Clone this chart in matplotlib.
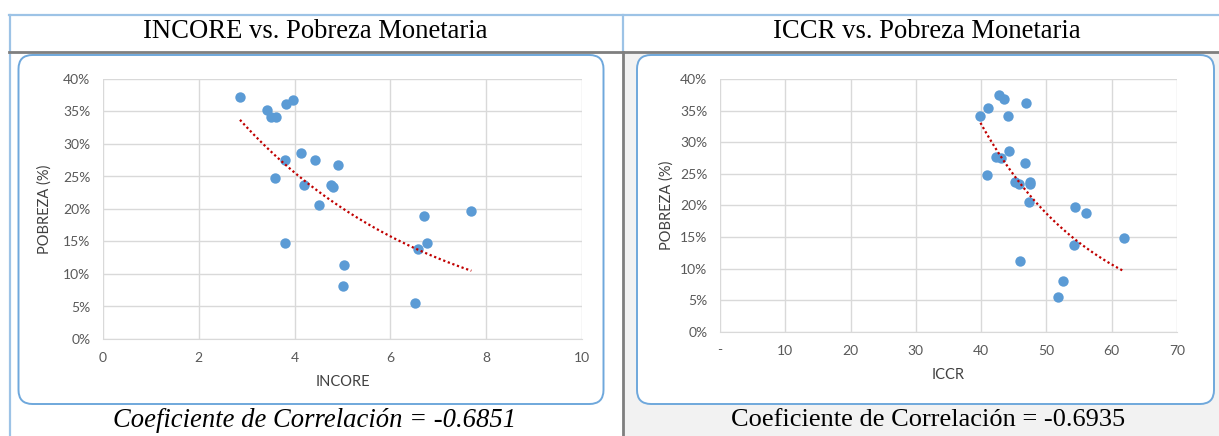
import numpy as np
import matplotlib
matplotlib.use("Agg")
import matplotlib.pyplot as plt
from matplotlib.patches import FancyBboxPatch, Rectangle
from matplotlib.ticker import FuncFormatter

# INCORE vs poverty (%)
incore = [2.86, 3.42, 3.51, 3.61, 3.83, 3.96, 3.80, 4.14, 4.43, 4.91, 3.60, 4.19,
          4.77, 4.80, 4.50, 6.70, 7.69, 3.80, 6.77, 6.58, 5.04, 5.00, 6.52]
pobreza_incore = [37.3, 35.3, 34.1, 34.1, 36.2, 36.8, 27.5, 28.6, 27.6, 26.8, 24.8, 23.7,
                  23.7, 23.4, 20.6, 18.9, 19.7, 14.8, 14.7, 13.9, 11.4, 8.1, 5.6]

# ICCR vs poverty (%)
iccr = [39.9, 41.0, 42.7, 43.5, 46.8, 44.1, 44.3, 42.2, 43.1, 46.7, 40.9, 45.2,
        45.8, 47.5, 47.5, 47.4, 54.4, 56.0, 61.9, 54.2, 46.0, 52.5, 51.8]
pobreza_iccr = [34.1, 35.4, 37.4, 36.9, 36.2, 34.2, 28.6, 27.6, 27.5, 26.7, 24.8, 23.7,
                23.4, 23.7, 23.4, 20.6, 19.8, 18.8, 14.8, 13.8, 11.3, 8.0, 5.5]

titles = ["INCORE vs. Pobreza Monetaria", "ICCR vs. Pobreza Monetaria"]
footers = ["Coeficiente de Correlación = -0.6851", "Coeficiente de Correlación = -0.6935"]
x_labels = ["INCORE", "ICCR"]
y_label = "POBREZA (%)"
y_ticks = [0, 5, 10, 15, 20, 25, 30, 35, 40]
x_ticks_incore = [0, 2, 4, 6, 8, 10]
x_ticks_iccr = [0, 10, 20, 30, 40, 50, 60, 70]

W, H = 1219, 436
fig = plt.figure(figsize=(W / 100, H / 100), dpi=100)
fig.patch.set_facecolor("white")

# background "table" drawn in pixel coordinates
bg = fig.add_axes([0, 0, 1, 1], zorder=-1)
bg.set_xlim(0, W)
bg.set_ylim(H, 0)
bg.axis("off")

light_blue = "#9dc3e6"
dark_gray = "#7f7f7f"
box_blue = "#6fa8dc"

bg.add_patch(Rectangle((623, 53), W - 623, H - 53, facecolor="#f2f2f2", edgecolor="none"))
bg.plot([9, W], [15, 15], color=light_blue, lw=1.6)
bg.plot([9.5, 9.5], [15, H], color=light_blue, lw=1.6)
bg.plot([622.5, 622.5], [15, 52], color=light_blue, lw=1.6)
bg.plot([622.5, 622.5], [52, H], color=dark_gray, lw=2)
bg.plot([9, W], [52.5, 52.5], color=dark_gray, lw=2)

for x0, x1 in [(18.5, 603.5), (637, 1214)]:
    bg.add_patch(FancyBboxPatch((x0 + 14, 55 + 14), x1 - x0 - 28, 404 - 55 - 28,
                                boxstyle="round,pad=14", facecolor="white",
                                edgecolor=box_blue, lw=1.4))

serif = "Liberation Serif"
bg.text(315.5, 32, titles[0], ha="center", va="center", fontsize=19.2, family=serif)
bg.text(927, 32, titles[1], ha="center", va="center", fontsize=19.2, family=serif)
bg.text(315, 420, footers[0], ha="center", va="center", fontsize=19.2, family=serif,
        style="italic")
bg.text(928, 420, footers[1], ha="center", va="center", fontsize=19, family=serif)

sans = "Lato"
tick_color = "#595959"
label_color = "#404040"


def pct(v, pos):
    return "%d%%" % v


def dash_zero(v, pos):
    return "-" if v == 0 else "%d" % v


def exp_trend(x, y):
    b, a = np.polyfit(x, np.log(y), 1)
    xs = np.linspace(min(x), max(x), 100)
    return xs, np.exp(a + b * xs)


panels = [
    (incore, pobreza_incore, x_ticks_incore, (103, 582, 79, 339), None, 45, 382),
    (iccr, pobreza_iccr, x_ticks_iccr, (720, 1177, 79, 332), dash_zero, 667, 375),
]

for i, (xv, yv, xt, (l, r, t, b), xfmt, ylx, xly) in enumerate(panels):
    ax = fig.add_axes([l / W, 1 - b / H, (r - l) / W, (b - t) / H])
    ax.set_facecolor("none")
    ax.scatter(xv, yv, s=56, color="#5b9bd5", zorder=3, linewidths=0)
    tx, ty = exp_trend(xv, yv)
    ax.plot(tx, ty, color="#c00000", lw=1.6, ls=(0, (1, 1.2)), zorder=4)
    ax.set_xlim(xt[0], xt[-1])
    ax.set_ylim(0, 40)
    ax.set_xticks(xt)
    ax.set_yticks(y_ticks)
    ax.yaxis.set_major_formatter(FuncFormatter(pct))
    if xfmt:
        ax.xaxis.set_major_formatter(FuncFormatter(xfmt))
    ax.grid(True, color="#d9d9d9", lw=1)
    ax.set_axisbelow(True)
    for s in ax.spines.values():
        s.set_visible(False)
    ax.spines["bottom"].set_visible(True)
    ax.spines["bottom"].set_color("#d9d9d9")
    ax.tick_params(length=0, labelsize=10, labelcolor=tick_color, pad=9)
    for lab in ax.get_xticklabels() + ax.get_yticklabels():
        lab.set_family(sans)
    bg.text(ylx, (t + b) / 2, y_label, rotation=90, ha="center", va="center",
            fontsize=10.5, family=sans, color=label_color)
    bg.text((l + r) / 2, xly, x_labels[i], ha="center", va="center",
            fontsize=10.5, family=sans, color=label_color)

fig.savefig("out.png", dpi=100)
